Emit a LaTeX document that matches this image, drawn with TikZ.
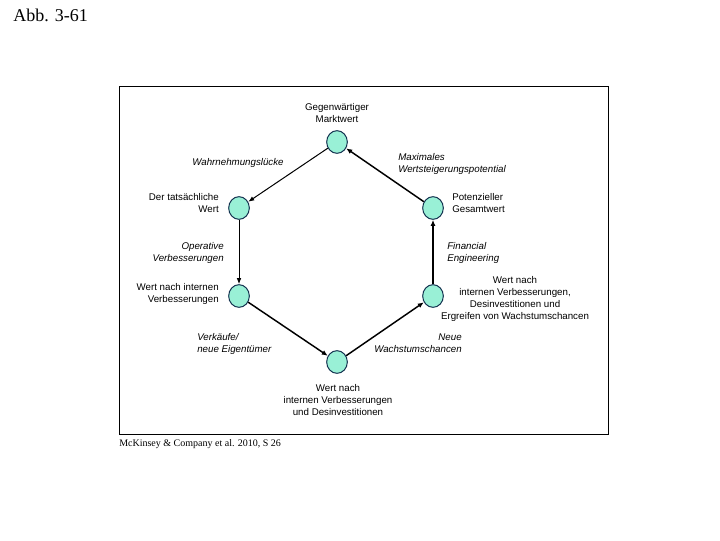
\documentclass[tikz,border=0pt]{standalone}
\usepackage{fontspec}
\setmainfont{Liberation Sans}
\newfontfamily\serifface{Liberation Serif}
\usetikzlibrary{arrows.meta}
\usetikzlibrary{shapes.geometric}
\definecolor{hubfill}{RGB}{153,240,214}
\definecolor{hubline}{RGB}{20,50,80}
\tikzset{
  hub/.style={ellipse,draw=hubline,fill=hubfill,line width=0.75pt,minimum width=15.5pt,minimum height=17pt,inner sep=0pt},
  lbl/.style={inner sep=0pt,font=\fontsize{7.3}{9}\selectfont},
  ilbl/.style={lbl,font=\fontsize{7.3}{9}\selectfont\itshape},
  thinflow/.style={line width=0.75pt,-{Latex[length=4.5pt,width=3.5pt]}},
  thickflow/.style={line width=1.1pt,-{Latex[length=4.5pt,width=3.8pt]}}
}
\begin{document}
\begin{tikzpicture}[x=0.75pt,y=0.75pt,yscale=-1,xscale=1]
			\useasboundingbox (0,0) rectangle (720,540);
			%Shape: Rectangle [id:frame]
			\draw [line width=0.75pt] (119,86) rectangle (608,434) ;
			
			%Shape: Ellipse [id:hubs]
			\node [hub] (marktwert) at (337,142) {};
			\node [hub] (tatsaechlich) at (239,208) {};
			\node [hub] (potenziell) at (433,208) {};
			\node [hub] (intern) at (239,296) {};
			\node [hub] (wachstum) at (433,296) {};
			\node [hub] (desinvest) at (337,362) {};
			
			%Straight Lines [id:flows]
			\draw [thinflow] (marktwert) -- (tatsaechlich) ;
			\draw [thinflow] (tatsaechlich) -- (intern) ;
			\draw [thickflow] (intern) -- (desinvest) ;
			\draw [thickflow] (desinvest) -- (wachstum) ;
			\draw [thickflow] (wachstum) -- (potenziell) ;
			\draw [thickflow] (potenziell) -- (marktwert) ;
			
			% Text Node
			\draw (337,113) node [lbl,align=center] (tmarktwert) {Gegenwärtiger\\Marktwert};
			% Text Node
			\draw (238,163) node [ilbl] (tluecke) {Wahrnehmungslücke};
			% Text Node
			\draw (398,164) node [ilbl,anchor=west,align=left] (tpotential) {Maximales\\Wertsteigerungspotential};
			% Text Node
			\draw (219,203.5) node [lbl,anchor=east,align=right] (ttatsaechlich) {Der tatsächliche\\Wert};
			% Text Node
			\draw (452,203.5) node [lbl,anchor=west,align=left] (tpotenziell) {Potenzieller\\Gesamtwert};
			% Text Node
			\draw (224,253) node [ilbl,anchor=east,align=right] (toperativ) {Operative\\Verbesserungen};
			% Text Node
			\draw (447,253) node [ilbl,anchor=west,align=left] (tfinancial) {Financial\\Engineering};
			% Text Node
			\draw (219,294) node [lbl,anchor=east,align=right] (tintern) {Wert nach internen\\Verbesserungen};
			% Text Node
			\draw (515,299) node [lbl,align=center] (twachstum) {Wert nach\\internen Verbesserungen,\\Desinvestitionen und\\Ergreifen von Wachstumschancen};
			% Text Node
			\draw (197,343.5) node [ilbl,anchor=west,align=left] (tverkaeufe) {Verkäufe/\\neue Eigentümer};
			% Text Node
			\draw (462,343.5) node [ilbl,anchor=east,align=right] (tneue) {Neue\\Wachstumschancen};
			% Text Node
			\draw (338,400.5) node [lbl,align=center] (tdesinvest) {Wert nach\\internen Verbesserungen\\und Desinvestitionen};
			
			% Text Node
			\draw (119,444) node [anchor=west,inner sep=0pt,font=\serifface\fontsize{7.5}{9}\selectfont] (tquelle) {McKinsey \& Company et al. 2010, S 26};
			% Text Node
			\draw (13,15) node [anchor=west,inner sep=0pt,font=\serifface\fontsize{13.5}{16}\selectfont] (ttitel) {Abb. 3-61};
\end{tikzpicture}
\end{document}
